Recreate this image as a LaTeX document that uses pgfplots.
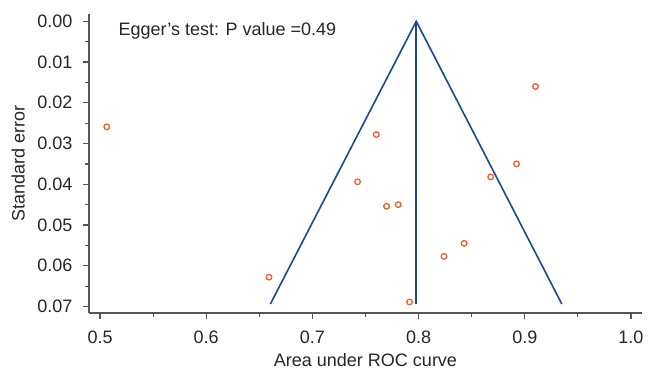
\documentclass[border=0pt]{standalone}
\usepackage{fontspec}
\setmainfont{Liberation Sans}
\usepackage{pgfplots}
\pgfplotsset{compat=1.18}
\definecolor{funnel}{RGB}{30,70,150}
\definecolor{pts}{RGB}{232,96,44}
\definecolor{axgray}{RGB}{85,85,85}
\begin{document}
\begin{tikzpicture}
\begin{axis}[
 scale only axis, width=553pt, height=299pt,
 xmin=0.4896, xmax=1.0104, ymin=-0.0018, ymax=0.0716,
 y dir=reverse,
 axis lines*=left,
 axis line style={axgray, line width=1.2pt},
 tick align=outside,
 major tick length=6pt, minor tick length=4pt,
 every tick/.style={axgray, line width=1.2pt},
 scaled x ticks=false, scaled y ticks=false,
 xtick={0.5,0.6,0.7,0.8,0.9,1.0},
 xticklabels={0.5,0.6,0.7,0.8,0.9,1.0},
 ytick={0,0.01,0.02,0.03,0.04,0.05,0.06,0.07},
 yticklabels={0.00,0.01,0.02,0.03,0.04,0.05,0.06,0.07},
 minor x tick num=1, minor y tick num=1,
 font=\fontsize{18}{21}\selectfont,
 ticklabel style={font=\fontsize{18}{21}\selectfont, text=black!85},
 xticklabel style={yshift=-8pt},
 yticklabel style={xshift=-7pt},
 label style={font=\fontsize{18}{21}\selectfont, text=black!85},
 xlabel={Area under ROC curve}, ylabel={Standard error},
 x label style={at={(axis description cs:0.5,-0.157)}, anchor=center},
 y label style={at={(axis description cs:-0.128,0.5)}, anchor=center},
 clip=false,
]
\addplot[funnel, line width=1.6pt, line join=miter] coordinates {(0.6604,0.0694) (0.7978,0) (0.9349,0.0694)};
\addplot[funnel, line width=1.6pt] coordinates {(0.7978,0) (0.7978,0.0694)};
\addplot[only marks, mark=o, mark size=2.8pt, mark options={pts, line width=1.3pt}] coordinates {
(0.5063,0.0259) (0.9101,0.0160) (0.7601,0.0278) (0.8922,0.0350) (0.8679,0.0382)
(0.7425,0.0394) (0.7698,0.0454) (0.7808,0.0450) (0.8429,0.0545) (0.8239,0.0577)
(0.6591,0.0628) (0.7915,0.0689)};
\node[anchor=west, font=\fontsize{18}{21}\selectfont, text=black!85] at (axis cs:0.5142,0.0023) {Egger’s test: P value =0.49};
\end{axis}
\pgfresetboundingbox
\path (current axis.south west) ++(-89pt,-56pt) rectangle ++(648pt,369pt);
\end{tikzpicture}
\end{document}
